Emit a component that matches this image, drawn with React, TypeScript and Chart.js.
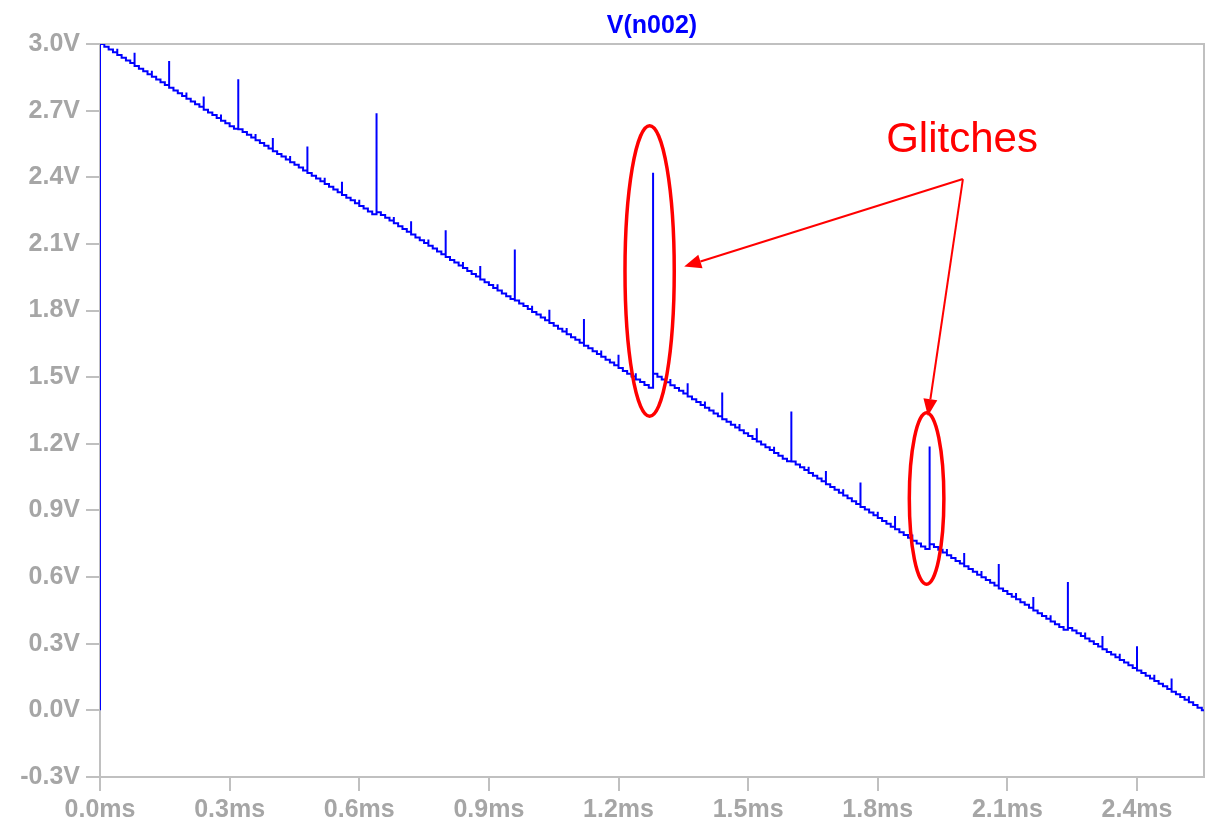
import React, { useEffect, useRef } from 'react';
import { Chart, registerables } from 'chart.js';

Chart.register(...registerables);

// ---- data ----
const stepMs = 0.01; // duration of one DAC step (ms)
const endMs = 2.555; // end of the simulated trace (ms)

// level of each of the 256 steps, in mV
const stepLevelsMv = [
  3000, 2988, 2975, 2963, 2951, 2938, 2926, 2914, 2901, 2889, 2877, 2864, 2852, 2840, 2828, 2815,
  2803, 2791, 2778, 2766, 2754, 2741, 2729, 2717, 2704, 2692, 2680, 2667, 2655, 2643, 2630, 2618,
  2616, 2604, 2591, 2579, 2567, 2554, 2542, 2530, 2517, 2505, 2493, 2480, 2468, 2456, 2444, 2431,
  2419, 2407, 2394, 2382, 2370, 2357, 2345, 2333, 2320, 2308, 2296, 2283, 2271, 2259, 2246, 2234,
  2243, 2230, 2218, 2205, 2193, 2180, 2167, 2155, 2142, 2129, 2117, 2104, 2092, 2079, 2066, 2054,
  2041, 2028, 2016, 2003, 1991, 1978, 1965, 1953, 1940, 1927, 1915, 1902, 1890, 1877, 1864, 1852,
  1845, 1832, 1820, 1807, 1794, 1782, 1769, 1756, 1744, 1731, 1718, 1706, 1693, 1680, 1668, 1655,
  1642, 1630, 1617, 1604, 1592, 1579, 1566, 1554, 1541, 1528, 1516, 1503, 1490, 1478, 1465, 1452,
  1515, 1502, 1490, 1477, 1464, 1451, 1439, 1426, 1413, 1401, 1388, 1375, 1362, 1350, 1337, 1324,
  1311, 1299, 1286, 1273, 1261, 1248, 1235, 1222, 1210, 1197, 1184, 1172, 1159, 1146, 1133, 1121,
  1120, 1107, 1095, 1082, 1069, 1056, 1044, 1031, 1018, 1006, 993, 980, 967, 955, 942, 929,
  916, 904, 891, 878, 866, 853, 840, 827, 815, 802, 789, 777, 764, 751, 738, 726,
  748, 736, 723, 711, 698, 686, 673, 661, 649, 636, 624, 611, 599, 587, 574, 562,
  549, 537, 524, 512, 500, 487, 475, 462, 450, 437, 425, 413, 400, 388, 375, 363,
  371, 359, 347, 335, 323, 311, 299, 287, 275, 263, 251, 239, 227, 215, 203, 191,
  179, 168, 156, 144, 132, 120, 108, 96, 84, 72, 60, 48, 36, 24, 12, 0,
];

// height of the glitch that starts each step, in mV above the new level
const glitchMv = [
  0, 7, 14, 7, 28, 7, 14, 7, 60, 7, 14, 7, 28, 7, 14, 7, 120, 7, 14, 7, 28, 7, 14, 7, 60, 7, 14, 7, 28, 7, 14, 7,
  225, 7, 14, 7, 28, 7, 14, 7, 60, 7, 14, 7, 28, 7, 14, 7, 120, 7, 14, 7, 28, 7, 14, 7, 60, 7, 14, 7, 28, 7, 14, 7,
  445, 7, 14, 7, 28, 7, 14, 7, 60, 7, 14, 7, 28, 7, 14, 7, 120, 7, 14, 7, 28, 7, 14, 7, 60, 7, 14, 7, 28, 7, 14, 7,
  230, 7, 14, 7, 28, 7, 14, 7, 60, 7, 14, 7, 28, 7, 14, 7, 120, 7, 14, 7, 28, 7, 14, 7, 60, 7, 14, 7, 28, 7, 14, 7,
  905, 7, 14, 7, 28, 7, 14, 7, 60, 7, 14, 7, 28, 7, 14, 7, 120, 7, 14, 7, 28, 7, 14, 7, 60, 7, 14, 7, 28, 7, 14, 7,
  225, 7, 14, 7, 28, 7, 14, 7, 60, 7, 14, 7, 28, 7, 14, 7, 110, 7, 14, 7, 28, 7, 14, 7, 60, 7, 14, 7, 28, 7, 14, 7,
  440, 7, 14, 7, 28, 7, 14, 7, 60, 7, 14, 7, 28, 7, 14, 7, 110, 7, 14, 7, 28, 7, 14, 7, 60, 7, 14, 7, 28, 7, 14, 7,
  207, 7, 14, 7, 28, 7, 14, 7, 60, 7, 14, 7, 28, 7, 14, 7, 110, 7, 14, 7, 28, 7, 14, 7, 60, 7, 14, 7, 28, 7, 14, 7,
];

const xTicks = [0, 0.3, 0.6, 0.9, 1.2, 1.5, 1.8, 2.1, 2.4];
const xTickLabels = ['0.0ms', '0.3ms', '0.6ms', '0.9ms', '1.2ms', '1.5ms', '1.8ms', '2.1ms', '2.4ms'];
const yTicks = [-0.3, 0, 0.3, 0.6, 0.9, 1.2, 1.5, 1.8, 2.1, 2.4, 2.7, 3.0];
const yTickLabels = ['-0.3V', '0.0V', '0.3V', '0.6V', '0.9V', '1.2V', '1.5V', '1.8V', '2.1V', '2.4V', '2.7V', '3.0V'];

const traceTitle = 'V(n002)';

// annotation (drawn over the chart), in data units
const noteText = 'Glitches';
const notePos = { ms: 1.995, v: 2.564 };
const arrowFrom = { ms: 1.997, v: 2.392 };
const arrowTips = [
  { ms: 1.352, v: 1.998 },
  { ms: 1.916, v: 1.325 },
];
const ellipses = [
  { ms: 1.272, v: 1.978, rMs: 0.057, rV: 0.654 },
  { ms: 1.913, v: 0.954, rMs: 0.04, rV: 0.386 },
];

// ---- styles ----
const FONT = '"Liberation Sans", Arial, sans-serif';
const AXIS_GRAY = '#c0c0c0';
const LABEL_GRAY = '#a6a6a6';
const TRACE_BLUE = '#0000ff';
const NOTE_RED = '#ff0000';

const framePlugin = {
  id: 'frame',
  beforeDatasetsDraw(chart: any) {
    const { ctx, chartArea } = chart;
    ctx.save();
    ctx.strokeStyle = AXIS_GRAY;
    ctx.lineWidth = 2;
    ctx.beginPath();
    ctx.moveTo(chartArea.left, chartArea.top);
    ctx.lineTo(chartArea.right, chartArea.top);
    ctx.lineTo(chartArea.right, chartArea.bottom);
    ctx.stroke();
    ctx.restore();
  },
  afterDraw(chart: any) {
    const { ctx, chartArea, scales } = chart;
    const xs = scales.x;
    const ys = scales.y;
    ctx.save();
    // title
    ctx.fillStyle = TRACE_BLUE;
    ctx.font = `bold 25px ${FONT}`;
    ctx.textAlign = 'center';
    ctx.textBaseline = 'middle';
    ctx.fillText(traceTitle, (chartArea.left + chartArea.right) / 2, 26);

    // ellipses
    ctx.strokeStyle = NOTE_RED;
    ctx.lineWidth = 3.5;
    for (const e of ellipses) {
      const cx = xs.getPixelForValue(e.ms);
      const cy = ys.getPixelForValue(e.v);
      const rx = Math.abs(xs.getPixelForValue(e.ms + e.rMs) - cx);
      const ry = Math.abs(ys.getPixelForValue(e.v + e.rV) - cy);
      ctx.beginPath();
      ctx.ellipse(cx, cy, rx, ry, 0, 0, Math.PI * 2);
      ctx.stroke();
    }

    // arrows
    const fx = xs.getPixelForValue(arrowFrom.ms);
    const fy = ys.getPixelForValue(arrowFrom.v);
    ctx.fillStyle = NOTE_RED;
    ctx.lineWidth = 2;
    for (const t of arrowTips) {
      const tx = xs.getPixelForValue(t.ms);
      const ty = ys.getPixelForValue(t.v);
      const ang = Math.atan2(ty - fy, tx - fx);
      const headLen = 17;
      const headW = 7;
      const bx = tx - headLen * Math.cos(ang);
      const by = ty - headLen * Math.sin(ang);
      ctx.beginPath();
      ctx.moveTo(fx, fy);
      ctx.lineTo(bx, by);
      ctx.stroke();
      ctx.beginPath();
      ctx.moveTo(tx, ty);
      ctx.lineTo(bx + headW * Math.sin(ang), by - headW * Math.cos(ang));
      ctx.lineTo(bx - headW * Math.sin(ang), by + headW * Math.cos(ang));
      ctx.closePath();
      ctx.fill();
    }

    // text
    ctx.font = `42px ${FONT}`;
    ctx.textAlign = 'center';
    ctx.textBaseline = 'middle';
    ctx.fillText(noteText, xs.getPixelForValue(notePos.ms), ys.getPixelForValue(notePos.v));
    ctx.restore();
  },
};

export default function App() {
  const canvasRef = useRef<HTMLCanvasElement | null>(null);

  useEffect(() => {
    const canvas = canvasRef.current;
    if (!canvas) return;

    const points: { x: number; y: number }[] = [];
    points.push({ x: 0, y: 0 });
    points.push({ x: 0, y: stepLevelsMv[0] / 1000 });
    for (let k = 1; k < stepLevelsMv.length; k++) {
      const t = k * stepMs;
      const prev = stepLevelsMv[k - 1] / 1000;
      const cur = stepLevelsMv[k] / 1000;
      points.push({ x: t, y: prev });
      points.push({ x: t, y: cur + glitchMv[k] / 1000 });
      points.push({ x: t, y: cur });
    }
    points.push({ x: endMs, y: stepLevelsMv[stepLevelsMv.length - 1] / 1000 });

    const tickFont = { family: FONT, size: 25, weight: 'bold' as const };

    const chart = new Chart(canvas, {
      type: 'line',
      data: {
        datasets: [
          {
            label: traceTitle,
            data: points,
            borderColor: TRACE_BLUE,
            borderWidth: 2,
            pointRadius: 0,
            tension: 0,
            fill: false,
          },
        ],
      },
      options: {
        responsive: false,
        animation: false,
        devicePixelRatio: 1,
        layout: { padding: { top: 44, right: 5, left: 0, bottom: 0 } },
        plugins: {
          legend: { display: false },
          tooltip: { enabled: false },
          title: { display: false },
        },
        scales: {
          x: {
            type: 'linear',
            min: 0,
            max: endMs,
            afterFit(scale: any) {
              scale.height = 50;
            },
            afterBuildTicks(scale: any) {
              scale.ticks = xTicks.map((v) => ({ value: v }));
            },
            grid: {
              drawOnChartArea: false,
              drawTicks: true,
              tickLength: 14,
              color: AXIS_GRAY,
              lineWidth: 2,
            },
            border: { display: true, color: AXIS_GRAY, width: 2 },
            ticks: {
              autoSkip: false,
              maxRotation: 0,
              padding: 4,
              color: LABEL_GRAY,
              font: tickFont,
              callback: (_v: any, i: number) => xTickLabels[i],
            },
          },
          y: {
            type: 'linear',
            min: -0.3,
            max: 3.0,
            afterFit(scale: any) {
              scale.width = 100;
            },
            afterBuildTicks(scale: any) {
              scale.ticks = yTicks.map((v) => ({ value: v }));
            },
            grid: {
              drawOnChartArea: false,
              drawTicks: true,
              tickLength: 14,
              color: AXIS_GRAY,
              lineWidth: 2,
            },
            border: { display: true, color: AXIS_GRAY, width: 2 },
            ticks: {
              autoSkip: false,
              padding: 6,
              color: LABEL_GRAY,
              font: tickFont,
              callback: (_v: any, i: number) => yTickLabels[i],
            },
          },
        },
      },
      plugins: [framePlugin],
    });

    return () => chart.destroy();
  }, []);

  return (
    <div style={{ position: 'absolute', left: 0, top: 0, width: 1209, height: 827, background: '#ffffff' }}>
      <canvas ref={canvasRef} width={1209} height={827} style={{ display: 'block', width: 1209, height: 827 }} />
    </div>
  );
}
